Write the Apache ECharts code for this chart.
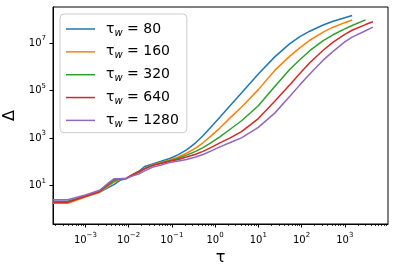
<!DOCTYPE html>
<html><head><meta charset="utf-8">
<script src="https://cdn.jsdelivr.net/npm/echarts@6/dist/echarts.min.js"></script>
<style>html,body{margin:0;padding:0;background:#fff}#c{width:394px;height:271px}</style>
</head><body><div id="c"></div>
<script>
// Values, stored as log10 exponents.
const waitingTimes = [80, 160, 320, 640, 1280];
const seriesColors = ['#1f77b4', '#ff7f0e', '#2ca02c', '#d62728', '#9467bd'];
const logTau = [-3.75, -3.41, -3.0, -2.67, -2.45, -2.33, -2.2, -2.05, -1.92, -1.75, -1.63, -1.44, -1.25, -1.05, -0.85, -0.66, -0.45, -0.28, -0.1, 0.11, 0.34, 0.62, 1.0, 1.38, 1.73, 1.96, 2.19, 2.5, 2.73, 3.0, 3.17, 3.48, 3.65];
const logDelta80   = [0.34, 0.34, 0.55, 0.72, 0.93, 1.05, 1.22, 1.30, 1.45, 1.62, 1.80, 1.91, 2.02, 2.14, 2.30, 2.50, 2.80, 3.10, 3.46, 3.88, 4.35, 4.92, 5.70, 6.42, 6.98, 7.27, 7.50, 7.76, 7.92, 8.07, 8.16];
const logDelta160  = [0.25, 0.25, 0.52, 0.72, 1.00, 1.15, 1.26, 1.30, 1.42, 1.58, 1.72, 1.88, 1.97, 2.08, 2.20, 2.36, 2.58, 2.80, 3.08, 3.42, 3.84, 4.32, 5.04, 5.85, 6.45, 6.80, 7.12, 7.46, 7.67, 7.86, 7.97];
const logDelta320  = [0.31, 0.31, 0.55, 0.75, 1.05, 1.20, 1.28, 1.30, 1.45, 1.60, 1.72, 1.86, 1.95, 2.05, 2.15, 2.28, 2.44, 2.60, 2.80, 3.05, 3.36, 3.74, 4.36, 5.17, 5.90, 6.30, 6.68, 7.10, 7.35, 7.60, 7.74, 7.98];
const logDelta640  = [0.29, 0.29, 0.55, 0.75, 1.10, 1.27, 1.29, 1.31, 1.45, 1.58, 1.70, 1.85, 1.93, 2.02, 2.10, 2.20, 2.32, 2.44, 2.60, 2.80, 3.00, 3.28, 3.82, 4.55, 5.25, 5.72, 6.17, 6.70, 7.04, 7.37, 7.54, 7.78, 7.90];
const logDelta1280 = [0.40, 0.40, 0.60, 0.80, 1.13, 1.29, 1.29, 1.30, 1.40, 1.50, 1.62, 1.78, 1.86, 1.97, 2.03, 2.10, 2.20, 2.31, 2.45, 2.63, 2.80, 3.02, 3.45, 4.05, 4.76, 5.24, 5.70, 6.28, 6.65, 7.05, 7.25, 7.52, 7.67];
const xTickExps = [-3, -2, -1, 0, 1, 2, 3];
const yTickExps = [1, 3, 5, 7];
const xRangeExp = [-3.75, 4.0];
const yRangeExp = [-0.62, 8.52];

const deltas = [logDelta80, logDelta160, logDelta320, logDelta640, logDelta1280];
const FONT = 'DejaVu Sans';
const xMajor = xTickExps.map(e => Math.pow(10, e));
const yMajor = yTickExps.map(e => Math.pow(10, e));
const xMinor = [];
for (let n = -4; n <= 3; n++) for (let k = 2; k <= 9; k++) {
  const v = k * Math.pow(10, n);
  if (v > Math.pow(10, xRangeExp[0]) && v < Math.pow(10, xRangeExp[1])) xMinor.push(v);
}
const powLabel = v => {
  const e = Math.round(Math.log10(v));
  return '{b|10}{s|' + (e < 0 ? '\u2212' + (-e) : e) + '}';
};
const labelRich = {
  b: {fontSize: 10, fontFamily: FONT, color: '#000', lineHeight: 16},
  s: {fontSize: 7, fontFamily: FONT, color: '#000', verticalAlign: 'top'}
};
const axisBase = {
  axisLine: {show: true, onZero: false, lineStyle: {color: '#000', width: 1}},
  splitLine: {show: false}
};
const chart = echarts.init(document.getElementById('c'), null, {renderer: 'canvas'});
chart.setOption({
  animation: false,
  backgroundColor: '#fff',
  grid: {left: 53, right: 6, top: 7, bottom: 47, show: true, borderColor: '#000', borderWidth: 1,
         containLabel: false, outerBoundsMode: 'none'},
  legend: {
    orient: 'vertical', left: 60, top: 14, padding: [8, 8, 3.3, 6], itemGap: 6.85,
    itemWidth: 29, itemHeight: 1.5, icon: 'rect',
    backgroundColor: 'rgba(255,255,255,0.8)', borderColor: '#cccccc', borderWidth: 1, borderRadius: 4,
    data: waitingTimes.map(String),
    formatter: n => '{a|\u03c4}{w|w}{a| = ' + n + '}',
    textStyle: {
      padding: [0, 0, 0, 6],
      rich: {
        a: {fontSize: 14, fontFamily: FONT, color: '#000', lineHeight: 18},
        w: {fontSize: 10, fontFamily: FONT, fontStyle: 'italic', color: '#000', verticalAlign: 'bottom', lineHeight: 10}
      }
    }
  },
  xAxis: [
    Object.assign({}, axisBase, {
      type: 'log', min: Math.pow(10, xRangeExp[0]), max: Math.pow(10, xRangeExp[1]), position: 'bottom',
      axisTick: {show: true, customValues: xMajor, length: 3.5, lineStyle: {color: '#000', width: 1}},
      axisLabel: {customValues: xMajor, formatter: powLabel, margin: 8, rich: labelRich},
      name: '\u03c4', nameLocation: 'middle', nameGap: 23,
      nameTextStyle: {fontSize: 16, fontFamily: FONT, color: '#000'}
    }),
    {
      type: 'log', min: Math.pow(10, xRangeExp[0]), max: Math.pow(10, xRangeExp[1]), position: 'bottom',
      axisLine: {show: false}, splitLine: {show: false}, axisLabel: {show: false},
      axisTick: {show: true, customValues: xMinor, length: 2, lineStyle: {color: '#000', width: 0.8}}
    }
  ],
  yAxis: Object.assign({}, axisBase, {
    type: 'log', min: Math.pow(10, yRangeExp[0]), max: Math.pow(10, yRangeExp[1]),
    axisTick: {show: true, customValues: yMajor, length: 3.5, lineStyle: {color: '#000', width: 1}},
    axisLabel: {customValues: yMajor, formatter: powLabel, margin: 7, rich: labelRich},
    name: '\u0394', nameLocation: 'middle', nameGap: 27, nameRotate: 90,
    nameTextStyle: {fontSize: 16, fontFamily: FONT, color: '#000'}
  }),
  series: waitingTimes.map((w, i) => ({
    type: 'line', name: String(w), xAxisIndex: 0, yAxisIndex: 0,
    showSymbol: false, symbol: 'none', smooth: false,
    color: seriesColors[i],
    lineStyle: {width: 1.5, color: seriesColors[i]},
    data: deltas[i].map((d, j) => [Math.pow(10, logTau[j]), Math.pow(10, d)])
  }))
});
</script></body></html>
